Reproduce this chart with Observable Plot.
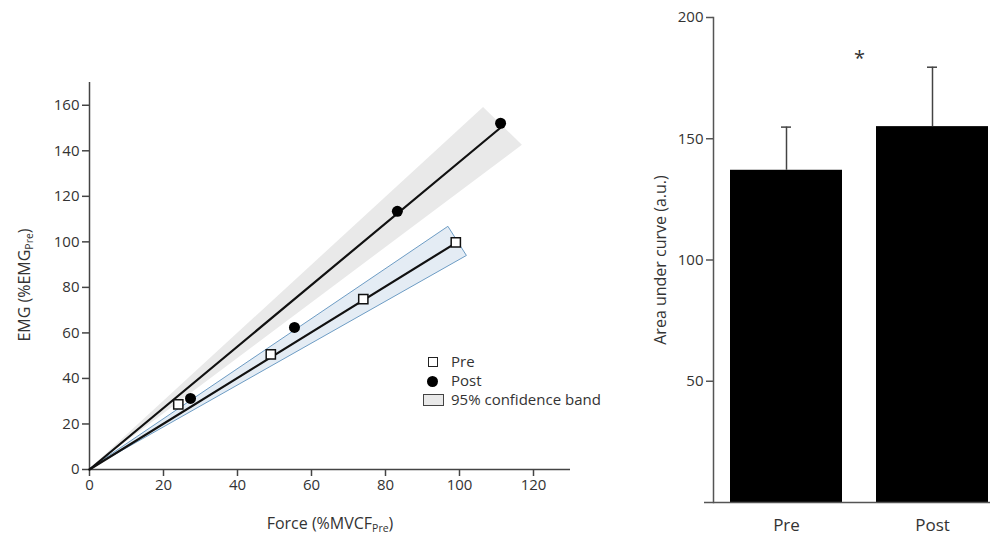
<!DOCTYPE html>
<html>
<head>
<meta charset="utf-8">
<script src="https://cdn.jsdelivr.net/npm/d3@7"></script>
<script src="https://cdn.jsdelivr.net/npm/@observablehq/plot@0.6"></script>
<style>
  html, body { margin: 0; padding: 0; background: #fff; }
  #wrap { position: relative; width: 992px; height: 537px; font-family: 'Open Sans', sans-serif; color: #333; }
  #left, #right { position: absolute; top: 0; }
  #left { left: 0; }
  #right { left: 620px; }
  .lab { position: absolute; font-size: 16px; color: #333; white-space: nowrap; }
  .lab sub { font-size: 10.5px; vertical-align: -3px; }
  .rot { transform: translate(-50%, -50%) rotate(-90deg); }
  .hc { transform: translate(-50%, -50%); }
  .leg { position: absolute; font-size: 15px; color: #333; white-space: nowrap; }
  .mk { position: absolute; box-sizing: border-box; }
</style>
</head>
<body>
<div id="wrap">
  <div id="left"></div>
  <div id="right"></div>
  <div class="lab rot" style="left:24px; top:285px;">EMG (%EMG<sub>Pre</sub>)</div>
  <div class="lab hc" style="left:330px; top:523px;">Force (%MVCF<sub>Pre</sub>)</div>
  <div class="lab rot" style="left:660px; top:260px;">Area under curve (a.u.)</div>

  <div class="mk" style="left:428px; top:357px; width:10px; height:10px; border:1.5px solid #222; background:#fff;"></div>
  <div class="leg" style="left:451px; top:351px;">Pre</div>
  <div class="mk" style="left:427px; top:376px; width:11px; height:11px; border-radius:50%; background:#000;"></div>
  <div class="leg" style="left:451px; top:370px;">Post</div>
  <div class="mk" style="left:423px; top:394px; width:21px; height:12px; border:1px solid #444; background:#e9e9e9;"></div>
  <div class="leg" style="left:451px; top:389px;">95% confidence band</div>
</div>
<script>
// ---- Left panel data ----
const xTicks = [0, 20, 40, 60, 80, 100, 120];
const yTicks = [0, 20, 40, 60, 80, 100, 120, 140, 160];
const preForce = [24, 49, 74, 99];
const preEMG = [28.6, 50.6, 74.8, 99.8];
const postForce = [27.3, 55.4, 83.2, 111.1];
const postEMG = [31.2, 62.4, 113.4, 152.1];
// regression lines (through origin)
const preFitX = [0, 99.5];
const preFitY = [0, 100];
const postFitX = [0, 111];
const postFitY = [0, 150];
// 95% confidence bands: upper and lower edges (x, y) from origin to end
const postBandUpperX = [0, 106.5];
const postBandUpperY = [0, 159];
const postBandLowerX = [0, 117];
const postBandLowerY = [0, 142.4];
const preBandUpperX = [0, 97];
const preBandUpperY = [0, 106.6];
const preBandLowerX = [0, 102];
const preBandLowerY = [0, 93.8];

// ---- Right panel data ----
const groups = ["Pre", "Post"];
const auc = [137, 155];
const aucSD = [17.8, 24.5];
const aucTicks = [50, 100, 150, 200];
const sigLabel = "*";
const sigValue = 183;

const font = "'Open Sans', sans-serif";
const idx2 = [0, 1];

const left = Plot.plot({
  width: 620, height: 537,
  marginLeft: 89, marginRight: 50, marginTop: 82, marginBottom: 68,
  style: { fontFamily: font, fontSize: "15px", color: "#333", background: "#fff", overflow: "visible" },
  x: { domain: [0, 130], label: null },
  y: { domain: [0, 170], label: null },
  marks: [
    Plot.area(idx2, {
      x1: i => postBandUpperX[i], y1: i => postBandUpperY[i],
      x2: i => postBandLowerX[i], y2: i => postBandLowerY[i],
      fill: "#e9e9e9"
    }),
    Plot.area(idx2, {
      x1: i => preBandUpperX[i], y1: i => preBandUpperY[i],
      x2: i => preBandLowerX[i], y2: i => preBandLowerY[i],
      fill: "#e4ecf4", stroke: "#6d9cc4", strokeWidth: 1
    }),
    Plot.ruleX([0], { stroke: "#444", strokeWidth: 1.5 }),
    Plot.ruleY([0], { stroke: "#444", strokeWidth: 1.5 }),
    Plot.axisX({ ticks: xTicks, tickSize: 7, tickPadding: 3, stroke: "#444", strokeWidth: 1.5, label: null }),
    Plot.axisY({ ticks: yTicks, tickSize: 7, tickPadding: 3, stroke: "#444", strokeWidth: 1.5, label: null }),
    Plot.line(idx2, { x: i => postFitX[i], y: i => postFitY[i], stroke: "#111", strokeWidth: 2.2 }),
    Plot.line(idx2, { x: i => preFitX[i], y: i => preFitY[i], stroke: "#111", strokeWidth: 2.2 }),
    Plot.dot(preForce.map((x, i) => i), { x: i => preForce[i], y: i => preEMG[i], symbol: "square", r: 5.2, fill: "#fff", stroke: "#111", strokeWidth: 1.5 }),
    Plot.dot(postForce.map((x, i) => i), { x: i => postForce[i], y: i => postEMG[i], r: 5.5, fill: "#000", stroke: "none" })
  ]
});
document.getElementById("left").append(left);

const right = Plot.plot({
  width: 372, height: 537,
  marginLeft: 93, marginRight: 2, marginTop: 17, marginBottom: 35,
  style: { fontFamily: font, fontSize: "15px", color: "#333", background: "#fff", overflow: "visible" },
  x: { domain: groups, range: [110, 368], paddingInner: 0.233, paddingOuter: 0, label: null },
  y: { domain: [0, 200], label: null },
  marks: [
    Plot.barY(idx2, { x: i => groups[i], y: i => auc[i], fill: "#000" }),
    Plot.ruleX(idx2, { x: i => groups[i], y1: i => auc[i], y2: i => auc[i] + aucSD[i], stroke: "#444", strokeWidth: 1.5 }),
    Plot.tickY(idx2, { x: i => groups[i], y: i => auc[i] + aucSD[i], stroke: "#444", strokeWidth: 1.5, insetLeft: 51, insetRight: 51 }),
    Plot.frame({ anchor: "left", stroke: "#555", strokeWidth: 1.5 }),
    Plot.ruleY([0], { stroke: "#555", strokeWidth: 1.5, insetLeft: -9 }),
    Plot.axisY({ ticks: aucTicks, tickSize: 7, tickPadding: 3, stroke: "#555", strokeWidth: 1.5, label: null }),
    Plot.axisX({ tickSize: 0, tickPadding: 16, fontSize: 17, label: null }),
    Plot.text([sigLabel], { x: () => "Post", y: () => sigValue, text: d => d, dx: -73, fontSize: 20, fill: "#333", lineAnchor: "middle" })
  ]
});
document.getElementById("right").append(right);
</script>
</body>
</html>
